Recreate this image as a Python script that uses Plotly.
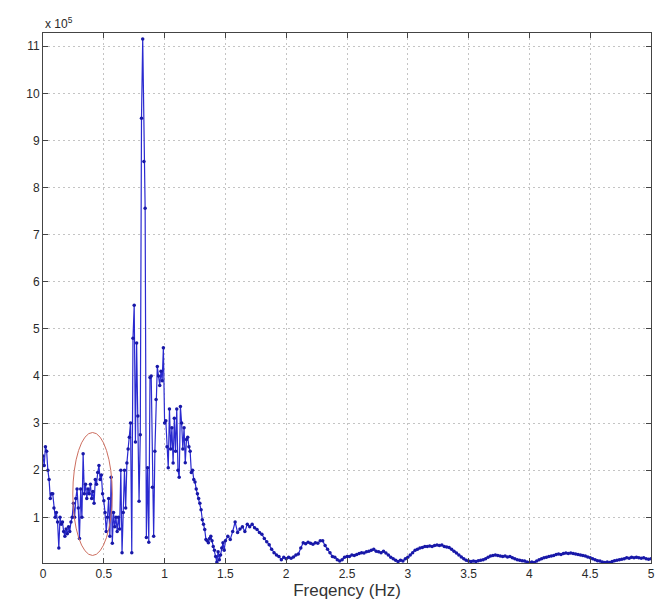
import numpy as np
import plotly.graph_objects as go

# Spectrum magnitude (units of 1e5), 0.00-1.50 Hz at 0.01 Hz steps
low_start, low_step = 0.00, 0.01
low_vals = [
    2.3, 2.1, 2.5, 2.4, 2.0, 1.8, 1.4, 1.5, 1.5, 1.2,
    1.0, 1.1, 0.9, 0.35, 1.0, 0.85, 0.9, 0.7, 0.6, 0.75,
    0.65, 0.8, 0.7, 0.9, 1.0, 1.3, 1.0, 1.4, 1.6, 1.2,
    0.55, 1.6, 1.0, 2.35, 1.5, 1.7, 1.4, 1.6, 1.5, 1.7,
    1.4, 1.55, 1.3, 1.8, 1.7, 1.95, 2.1, 1.8, 1.9, 1.5,
    1.35, 1.1, 0.7, 1.0, 1.4, 0.6, 1.85, 0.45, 1.1, 0.8,
    1.0, 0.7, 1.0, 0.75, 2.0, 0.25, 1.1, 2.0, 1.2, 2.15,
    2.45, 2.7, 3.0, 0.25, 4.8, 5.5, 2.6, 4.7, 3.15, 1.34,
    2.75, 9.47, 11.15, 8.55, 7.56, 0.57, 2.05, 0.47, 3.97, 4.0,
    1.64, 0.6, 2.4, 3.5, 4.2, 4.0, 3.8, 4.1, 3.9, 4.6,
    3.0, 3.05, 2.5, 2.05, 3.3, 2.45, 2.9, 2.15, 3.1, 2.4,
    3.3, 2.0, 1.85, 3.35, 3.0, 2.45, 2.9, 2.16, 2.65, 2.7,
    2.5, 2.4, 1.95, 2.0, 1.8, 1.75, 1.6, 1.5, 1.4, 1.3,
    1.16, 0.95, 0.85, 0.74, 0.53, 0.5, 0.46, 0.55, 0.6, 0.5,
    0.38, 0.3, 0.17, 0.05, 0.27, 0.1, 0.2, 0.35, 0.46, 0.3,
    0.5,
]

# 1.52-5.00 Hz at 0.02 Hz steps
high_start, high_step = 1.52, 0.02
high_vals = [
    0.6, 0.53, 0.7, 0.9, 0.68, 0.75, 0.8, 0.7, 0.85, 0.8,
    0.85, 0.78, 0.74, 0.68, 0.64, 0.55, 0.48, 0.42, 0.32, 0.25,
    0.2, 0.17, 0.1, 0.15, 0.12, 0.15, 0.13, 0.16, 0.2, 0.22,
    0.35, 0.46, 0.44, 0.47, 0.45, 0.43, 0.46, 0.45, 0.5, 0.5,
    0.4, 0.32, 0.25, 0.17, 0.15, 0.1, 0.07, 0.1, 0.15, 0.17,
    0.17, 0.2, 0.19, 0.21, 0.23, 0.25, 0.24, 0.27, 0.28, 0.3,
    0.32, 0.28, 0.27, 0.25, 0.28, 0.24, 0.2, 0.15, 0.12, 0.09,
    0.06, 0.09, 0.07, 0.12, 0.15, 0.2, 0.25, 0.3, 0.32, 0.35,
    0.36, 0.38, 0.38, 0.39, 0.38, 0.4, 0.41, 0.4, 0.41, 0.38,
    0.37, 0.36, 0.32, 0.28, 0.24, 0.2, 0.16, 0.12, 0.09, 0.07,
    0.06, 0.07, 0.06, 0.08, 0.09, 0.1, 0.12, 0.15, 0.18, 0.19,
    0.2, 0.19, 0.18, 0.17, 0.18, 0.16, 0.17, 0.14, 0.12, 0.1,
    0.09, 0.08, 0.07, 0.05, 0.04, 0.05, 0.04, 0.07, 0.1, 0.12,
    0.14, 0.15, 0.17, 0.18, 0.19, 0.21, 0.22, 0.21, 0.23, 0.24,
    0.23, 0.24, 0.23, 0.22, 0.21, 0.2, 0.19, 0.18, 0.16, 0.14,
    0.12, 0.1, 0.08, 0.07, 0.05, 0.04, 0.05, 0.04, 0.06, 0.08,
    0.09, 0.1, 0.11, 0.12, 0.14, 0.13, 0.15, 0.14, 0.15, 0.14,
    0.13, 0.14, 0.12, 0.11, 0.12,
]

x_ticks = [0, 0.5, 1, 1.5, 2, 2.5, 3, 3.5, 4, 4.5, 5]
x_tick_labels = ["0", "0.5", "1", "1.5", "2", "2.5", "3", "3.5", "4", "4.5", "5"]
y_ticks = [1, 2, 3, 4, 5, 6, 7, 8, 9, 10, 11]
y_tick_labels = [str(v) for v in y_ticks]

# highlighted region (ellipse) in data units
ellipse_x = [0.245, 0.57]
ellipse_y = [0.19, 2.8]

freq_low = np.round(low_start + low_step * np.arange(len(low_vals)), 4)
freq_high = np.round(high_start + high_step * np.arange(len(high_vals)), 4)
freq = np.concatenate([freq_low, freq_high])
mag = np.array(low_vals + high_vals)

line_col = "#2a2ad0"
fig = go.Figure()
fig.add_trace(go.Scatter(
    x=freq, y=mag, mode="lines+markers",
    line=dict(color=line_col, width=1.2),
    marker=dict(color="#1818a8", size=3.5),
    showlegend=False,
))

fig.add_shape(type="circle", xref="x", yref="y",
              x0=ellipse_x[0], x1=ellipse_x[1], y0=ellipse_y[0], y1=ellipse_y[1],
              line=dict(color="rgb(205,110,95)", width=1))

font_fam = "Arial, Liberation Sans"
axis_common = dict(
    showline=True, linecolor="#444444", linewidth=1, mirror="allticks",
    ticks="inside", ticklen=5, tickcolor="#444444",
    showgrid=True, gridcolor="#c4c4c4", griddash="2px,3px", gridwidth=1,
    zeroline=False,
    tickfont=dict(family=font_fam, size=12, color="#2a2a2a"),
)

fig.update_xaxes(range=[0, 5], tickvals=x_ticks, ticktext=x_tick_labels,
                 title=dict(text="Freqency (Hz)", font=dict(family=font_fam, size=17, color="#333333"), standoff=3),
                 **axis_common)
fig.update_yaxes(range=[0.03, 11.28], tickvals=y_ticks, ticktext=y_tick_labels, **axis_common)

fig.add_annotation(xref="paper", yref="paper", x=0, y=1, xanchor="left", yanchor="bottom",
                   text="x 10<sup>5</sup>", showarrow=False, yshift=0,
                   font=dict(family=font_fam, size=12, color="#2a2a2a"))

fig.update_layout(
    width=660, height=615,
    margin=dict(l=43, r=5, t=33, b=52),
    paper_bgcolor="white", plot_bgcolor="white",
)

fig.write_html("out.html")
